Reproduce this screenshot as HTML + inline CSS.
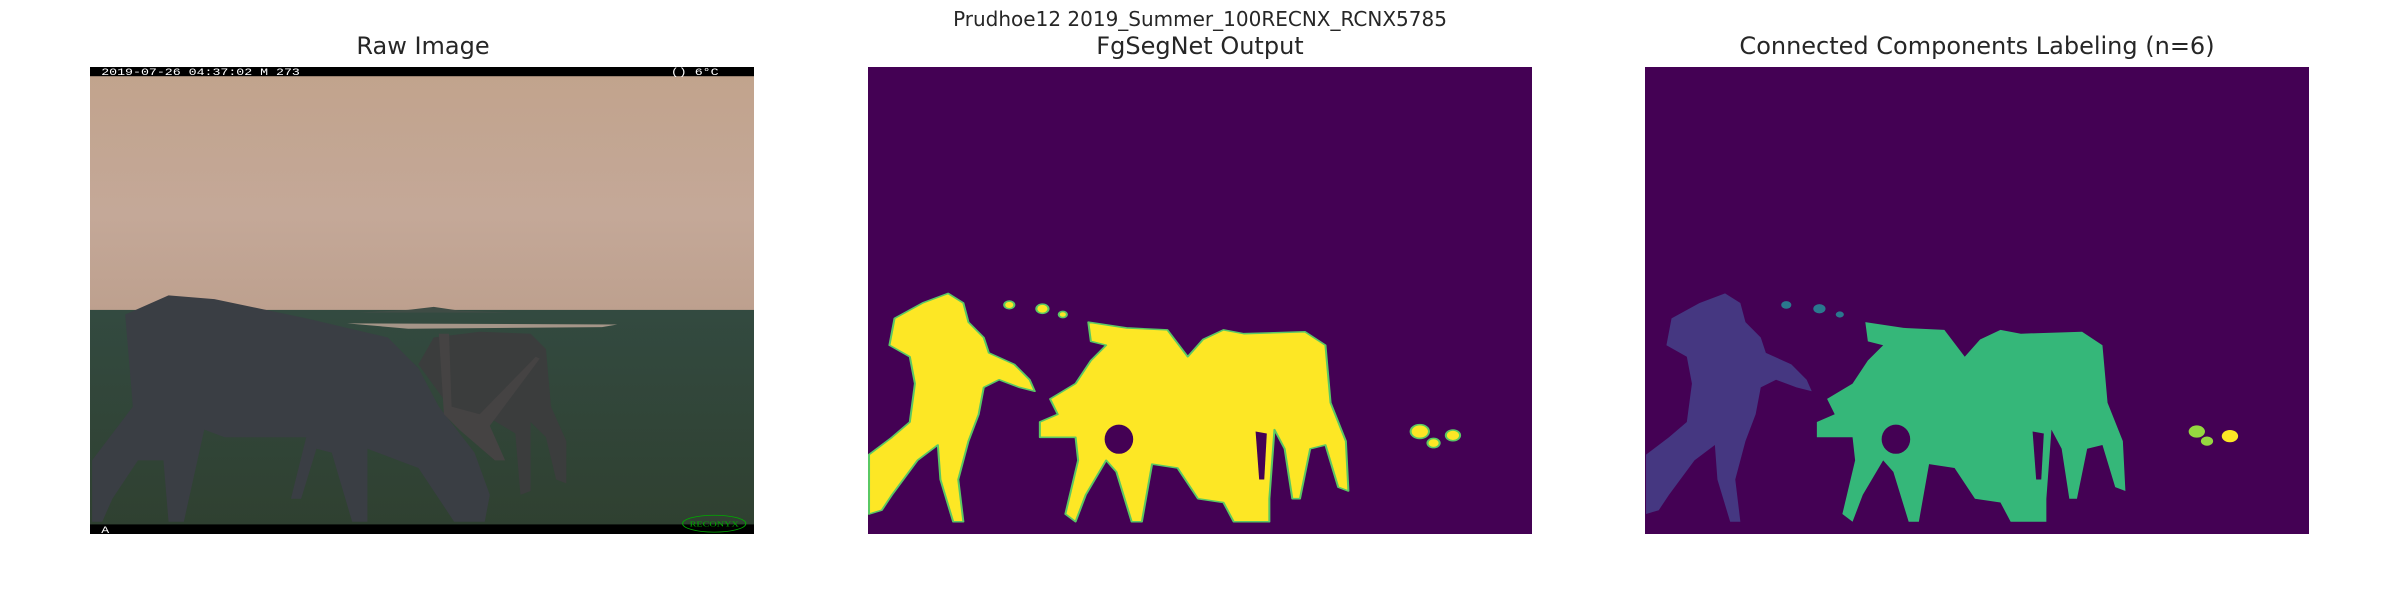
<!DOCTYPE html>
<html><head><meta charset="utf-8"><style>
html,body{margin:0;padding:0;background:#fff;width:2400px;height:600px;overflow:hidden;position:relative;font-family:"DejaVu Sans","Liberation Sans",sans-serif;color:#262626}
.t{position:absolute;white-space:nowrap;transform:translateX(-50%)}
svg{position:absolute}
</style></head><body>
<div class="t" style="left:1200px;top:7px;font-size:20px">Prudhoe12 2019_Summer_100RECNX_RCNX5785</div>
<div class="t" style="left:423px;top:32px;font-size:24px">Raw Image</div>
<div class="t" style="left:1200px;top:32px;font-size:24px">FgSegNet Output</div>
<div class="t" style="left:1977px;top:32px;font-size:24px">Connected Components Labeling (n=6)</div>

<svg style="left:90px;top:67px" width="664" height="467" viewBox="176 175 1302 1217" preserveAspectRatio="none">
<defs><linearGradient id="sky" x1="0" y1="0" x2="0" y2="1"><stop offset="0" stop-color="#c1a38c"/><stop offset="0.6" stop-color="#c4a898"/><stop offset="1" stop-color="#bda08e"/></linearGradient>
<linearGradient id="gr" x1="0" y1="0" x2="0" y2="1"><stop offset="0" stop-color="#334a40"/><stop offset="1" stop-color="#2f4030"/></linearGradient></defs>
<rect x="176" y="175" width="1302" height="640" fill="url(#sky)"/>
<rect x="176" y="808" width="1302" height="584" fill="url(#gr)"/>
<path d="M700,815 L800,808 L850,800 L900,810 L1000,815 Z" fill="#3f4c45"/>
<path d="M680,843 L1210,846 L1180,853 L800,857 Z" fill="#a59588"/>
<path d="M820,950 L850,880 L940,865 L1040,870 L1070,910 L1080,1060 L1110,1150 L1110,1260 L1090,1250 L1070,1140 L1040,1100 L1040,1280 L1020,1290 L1010,1130 L960,1090 L880,1060 Z" fill="#3b3d3d"/>
<path d="M245,820 L330,770 L420,780 L600,830 L760,880 L820,960 L860,1060 L930,1180 L960,1290 L950,1360 L890,1360 L820,1220 L720,1170 L720,1360 L690,1360 L650,1180 L620,1170 L590,1300 L570,1300 L600,1140 L440,1140 L400,1120 L360,1360 L330,1360 L320,1200 L270,1200 L220,1300 L200,1360 L180,1360 L180,1200 L260,1060 L250,900 Z" fill="#3a3e44"/>
<path d="M860,870 L880,870 L885,1060 L940,1080 L1050,930 L1058,935 L960,1110 L990,1200 L970,1200 L900,1120 L870,1080 Z" fill="#454343"/>
<rect x="176" y="175" width="1302" height="24" fill="#000"/>
<rect x="176" y="1367" width="1302" height="25" fill="#000"/>
<text x="198" y="196" font-family="Liberation Mono,monospace" font-size="26" fill="#fff">2019-07-26 04:37:02   M 273</text>
<text x="1315" y="196" font-family="Liberation Mono,monospace" font-size="26" fill="#fff">()  6°C</text>
<text x="198" y="1390" font-family="Liberation Mono,monospace" font-size="26" fill="#fff">A</text>
<ellipse cx="1400" cy="1365" rx="62" ry="22" fill="none" stroke="#0a0" stroke-width="2"/>
<text x="1400" y="1373" text-anchor="middle" font-family="Liberation Serif,serif" font-size="20" fill="#0a0">RECONYX</text>
</svg>

<svg style="left:868px;top:67px" width="664" height="467" viewBox="133 175 1302 1217" preserveAspectRatio="none">
<rect x="133" y="175" width="1302" height="1217" fill="#440154"/>
<g fill="#fde725" stroke="#5ac864" stroke-width="4" stroke-linejoin="round">
<path d="M135,1185 L180,1140 L215,1100 L225,1000 L215,930 L175,900 L185,830 L240,790 L290,765 L320,790 L330,840 L360,880 L370,920 L420,950 L450,990 L460,1020 L430,1010 L390,990 L360,1010 L350,1080 L330,1150 L310,1250 L320,1360 L300,1360 L275,1250 L270,1160 L230,1200 L180,1290 L160,1330 L135,1340 Z"/>
<path d="M565,840 L640,855 L720,860 L760,930 L790,885 L830,860 L870,870 L990,865 L1030,900 L1040,1050 L1070,1150 L1075,1280 L1055,1270 L1030,1160 L1000,1170 L980,1300 L965,1300 L950,1170 L930,1120 L920,1300 L920,1360 L850,1360 L830,1310 L780,1300 L740,1220 L690,1210 L670,1360 L650,1360 L620,1230 L600,1200 L560,1290 L540,1360 L520,1340 L545,1200 L540,1140 L470,1140 L470,1100 L505,1080 L490,1040 L540,1000 L570,940 L600,900 L570,890 Z"/>
<circle cx="1215" cy="1125" r="18"/><circle cx="1280" cy="1135" r="14"/><circle cx="1242" cy="1155" r="12"/>
<circle cx="410" cy="795" r="10"/><circle cx="475" cy="805" r="12"/><circle cx="515" cy="820" r="8"/>
</g>
<g fill="#440154"><ellipse cx="625" cy="1145" rx="28" ry="38"/><path d="M893,1125 L915,1130 L910,1250 L900,1250 Z"/></g>
</svg>

<svg style="left:1645px;top:67px" width="664" height="467" viewBox="133 175 1302 1217" preserveAspectRatio="none">
<rect x="133" y="175" width="1302" height="1217" fill="#440154"/>
<path fill="#453781" d="M135,1185 L180,1140 L215,1100 L225,1000 L215,930 L175,900 L185,830 L240,790 L290,765 L320,790 L330,840 L360,880 L370,920 L420,950 L450,990 L460,1020 L430,1010 L390,990 L360,1010 L350,1080 L330,1150 L310,1250 L320,1360 L300,1360 L275,1250 L270,1160 L230,1200 L180,1290 L160,1330 L135,1340 Z"/>
<path fill="#35b779" d="M565,840 L640,855 L720,860 L760,930 L790,885 L830,860 L870,870 L990,865 L1030,900 L1040,1050 L1070,1150 L1075,1280 L1055,1270 L1030,1160 L1000,1170 L980,1300 L965,1300 L950,1170 L930,1120 L920,1300 L920,1360 L850,1360 L830,1310 L780,1300 L740,1220 L690,1210 L670,1360 L650,1360 L620,1230 L600,1200 L560,1290 L540,1360 L520,1340 L545,1200 L540,1140 L470,1140 L470,1100 L505,1080 L490,1040 L540,1000 L570,940 L600,900 L570,890 Z"/>
<g fill="#440154"><ellipse cx="625" cy="1145" rx="28" ry="38"/><path d="M893,1125 L915,1130 L910,1250 L900,1250 Z"/></g>
<g fill="#2a788e"><circle cx="410" cy="795" r="10"/><circle cx="475" cy="805" r="12"/><circle cx="515" cy="820" r="8"/></g>
<g fill="#95d840"><circle cx="1215" cy="1125" r="16"/><circle cx="1235" cy="1150" r="12"/></g>
<circle cx="1280" cy="1137" r="16" fill="#fde725"/>
</svg>
</body></html>
